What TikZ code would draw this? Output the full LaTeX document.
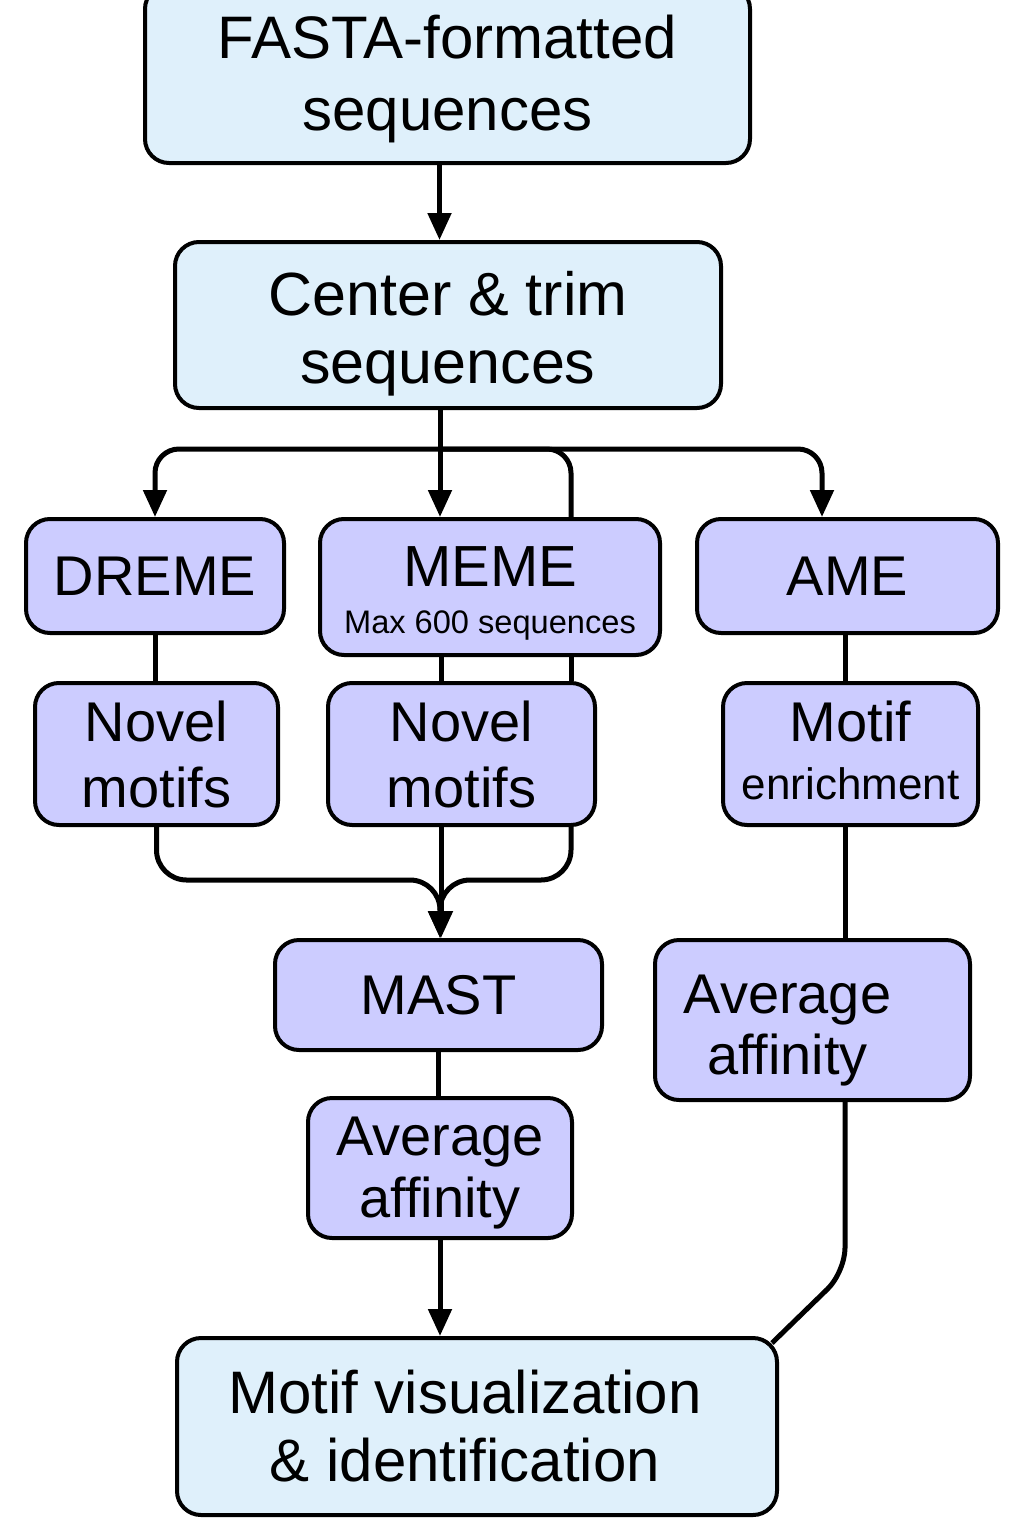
\documentclass[tikz,border=0pt]{standalone}
\usepackage{fontspec}
\setmainfont{Liberation Sans}
\usetikzlibrary{arrows.meta}

\definecolor{paleblue}{RGB}{223,240,251}
\definecolor{lavender}{RGB}{204,204,255}

\begin{document}
\begin{tikzpicture}[x=0.5pt, y=-0.5pt, line width=2.5pt,
  box/.style={draw, line width=2pt, rounded corners=12pt, align=center, inner sep=0pt,
    font=\fontsize{28}{33}\selectfont},
  inbox/.style={box, fill=paleblue},
  tool/.style={box, fill=lavender},
  arr/.style={-{Triangle[length=13.5pt,width=11.5pt]}}]
  \useasboundingbox (0,0) rectangle (1024,1536);

  \node[inbox, minimum width=302.5pt, minimum height=89pt, font=\fontsize{30}{36}\selectfont] (F) at (447.5,74) {\rule{0pt}{27pt}FASTA-formatted\\sequences};
  \node[inbox, minimum width=273pt, minimum height=83pt, font=\fontsize{30.5}{34}\selectfont] (C) at (448,325) {\rule{0pt}{31pt}Center \& trim\\sequences};

  \node[tool, minimum width=129pt, minimum height=57pt] (D) at (155,576) {DREME};
  \node[tool, minimum width=170pt, minimum height=68pt] (M) at (490,587) {\rule{0pt}{26pt}{\fontsize{29}{33}\selectfont MEME}\\[-9.5pt]{\fontsize{16.3}{19}\selectfont Max 600 sequences}};
  \node[tool, minimum width=150.5pt, minimum height=57pt] (A) at (847.5,576) {AME};

  \node[tool, minimum width=121.5pt, minimum height=71pt] (NL) at (156.5,754) {Novel\\motifs};
  \node[tool, minimum width=133.5pt, minimum height=71pt] (NM) at (461.5,754) {Novel\\motifs};
  \node[tool, minimum width=127.5pt, minimum height=71pt] (ME) at (850.5,754) {Motif\\[-4pt]{\fontsize{22}{26}\selectfont enrichment}\rule[-4pt]{0pt}{4pt}};

  \node[tool, minimum width=163.5pt, minimum height=55pt] (MA) at (438.5,995) {MAST};
  \node[tool, minimum width=132pt, minimum height=70pt] (AL) at (440,1168) {\rule{0pt}{24pt}Average\\[-2pt]affinity};
  \node[tool, minimum width=157.5pt, minimum height=80pt] (AR) at (812.5,1020) {\rule{0pt}{29.5pt}Average\hspace*{25pt}\\[-2.5pt]affinity\hspace*{25pt}};

  \node[inbox, minimum width=300pt, minimum height=88.5pt, font=\fontsize{30}{34}\selectfont] (V) at (477,1426.5) {Motif visualization\hspace*{12pt}\\\& identification\hspace*{12pt}};

  \coordinate (s) at (440,449);
  \coordinate (mg) at (440,880);

  % top
  \draw[arr] ([xshift=-4pt]F.south) -- ([xshift=-4pt]F.south |- C.north);
  \draw[arr] ([xshift=-4pt]C.south) -- ([xshift=-4pt]C.south |- M.north);
  \draw[arr, rounded corners=12pt] (s) -| (D.north);
  \draw[rounded corners=12pt] (s) -| ([xshift=40.5pt]M.north);
  \draw[arr, rounded corners=12pt] (s) -| ([xshift=-12.75pt]A.north);

  % tools to results
  \draw (D.south) -- (D.south |- NL.north);
  \draw ([xshift=-24.5pt]M.south) -- ([xshift=-24.5pt]M.south |- NM.north);
  \draw ([xshift=40.5pt]M.south) -- ([xshift=40.5pt]M.south |- NM.north);
  \draw ([xshift=-1.25pt]A.south) -- ([xshift=-1.25pt]A.south |- ME.north);

  % merge into MAST
  \draw[arr, rounded corners=15pt] (NL.south) |- (mg) -- (mg |- MA.north);
  \draw[arr] ([xshift=-10.25pt]NM.south) -- ([xshift=-10.25pt]NM.south |- MA.north);
  \draw[arr, rounded corners=15pt] ([xshift=54.75pt]NM.south) |- (mg) -- (mg |- MA.north);

  % bottom
  \draw ([xshift=-2.75pt]ME.south) -- ([xshift=-2.75pt]ME.south |- AR.north);
  \draw (MA.south) -- (MA.south |- AL.north);
  \draw[arr] (AL.south) -- (AL.south |- V.north);
  \draw[rounded corners=12pt] ([xshift=16.25pt]AR.south) -- ++(0,170) -- ([xshift=-3.5pt,yshift=-3.5pt]V.north east);
\end{tikzpicture}
\end{document}
